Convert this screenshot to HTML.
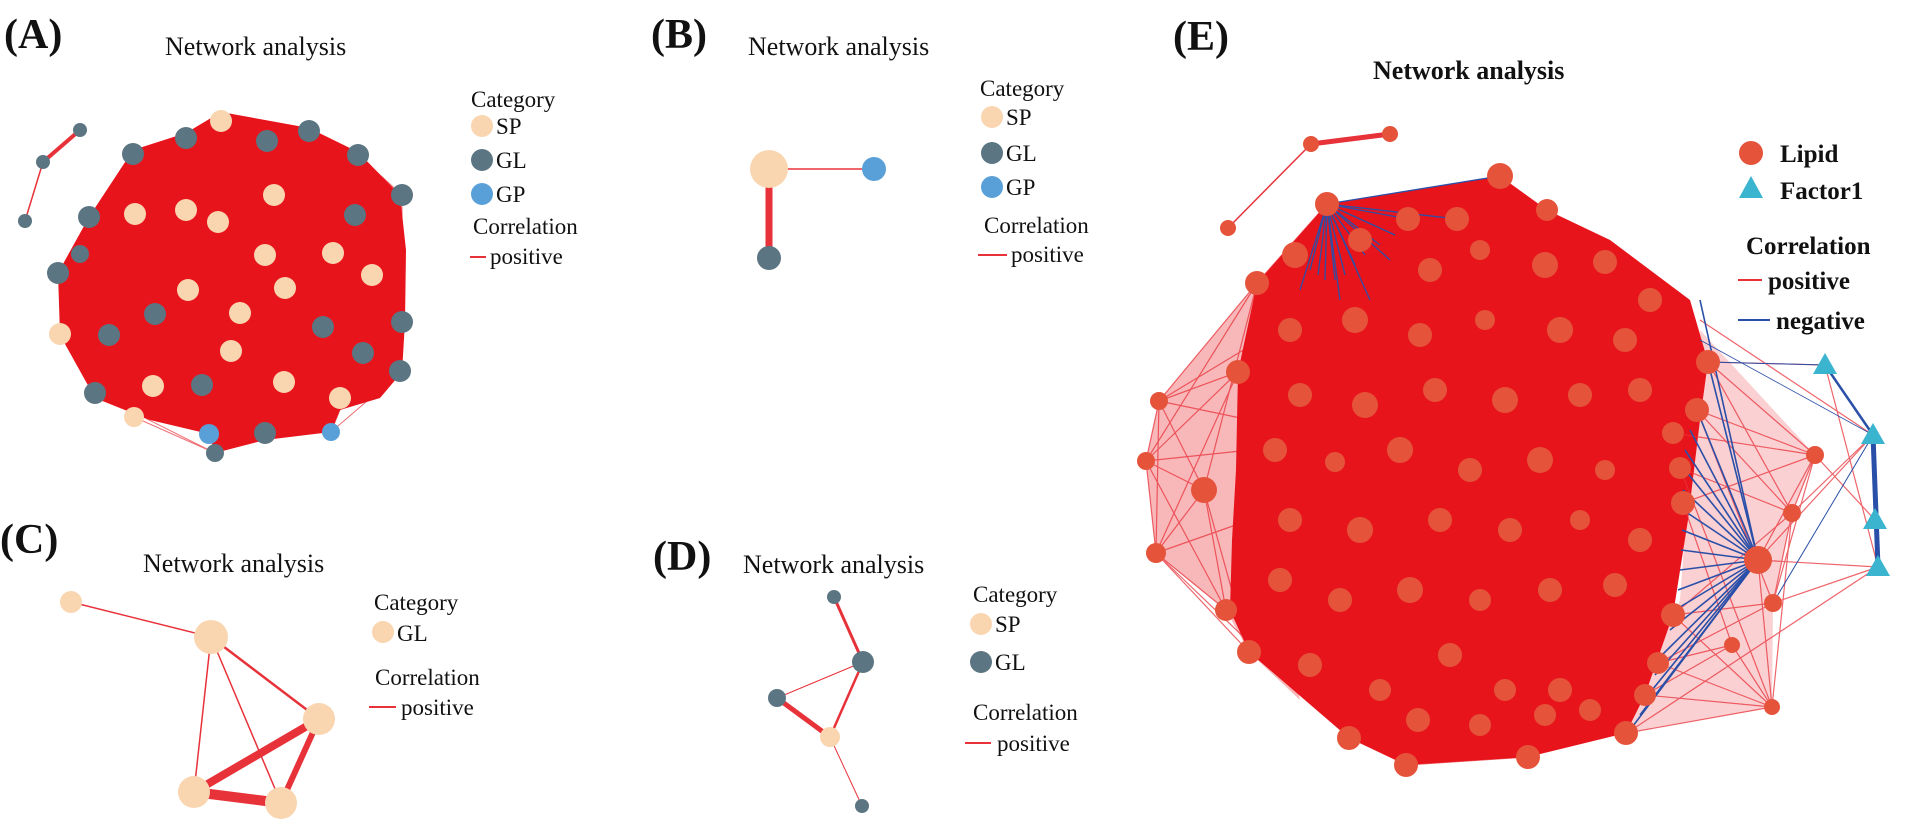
<!DOCTYPE html>
<html><head><meta charset="utf-8"><style>
html,body{margin:0;padding:0;background:#fff;width:1908px;height:826px;overflow:hidden}
text{font-family:"Liberation Serif",serif;fill:#111}
.lab{font-size:42px;font-weight:bold}
.tt{font-size:26px}
.lg{font-size:23px}
.lgb{font-size:25px;font-weight:bold}
.r{stroke:#e8323a;fill:none}
.b{stroke:#2a4fa8;fill:none}
.sp{fill:#f9d5b0}.gl{fill:#5b7582}.gp{fill:#5aa0d8}.li{fill:#e5533a}.tr{fill:#3ab4cf}
</style></head><body>
<svg width="1908" height="826" viewBox="0 0 1908 826" xmlns="http://www.w3.org/2000/svg">
<!-- Panel A -->
<text class="lab" x="4" y="48">(A)</text>
<text class="tt" x="165" y="55">Network analysis</text>
<line class="r" x1="43" y1="162" x2="80" y2="130" stroke-width="4"/>
<line class="r" x1="43" y1="162" x2="25" y2="221" stroke-width="1.5"/>
<g class="r" stroke-width="1" opacity="0.7">
<line x1="209" y1="434" x2="95" y2="393"/><line x1="209" y1="434" x2="152" y2="387"/><line x1="209" y1="434" x2="60" y2="334"/>
<line x1="215" y1="453" x2="134" y2="417"/><line x1="215" y1="453" x2="288" y2="382"/><line x1="215" y1="453" x2="95" y2="393"/>
<line x1="331" y1="432" x2="402" y2="371"/><line x1="331" y1="432" x2="288" y2="382"/><line x1="331" y1="432" x2="363" y2="353"/><line x1="331" y1="432" x2="231" y2="353"/>
<line x1="402" y1="195" x2="358" y2="155"/><line x1="402" y1="322" x2="372" y2="275"/><line x1="402" y1="322" x2="402" y2="195"/>
<line x1="402" y1="195" x2="380" y2="300"/><line x1="402" y1="322" x2="380" y2="230"/><line x1="400" y1="371" x2="385" y2="260"/>
</g>
<polygon fill="#e8141c" points="133,150 186,133 221,112 309,128 358,152 400,195 406,250 405,322 402,372 380,398 340,410 331,432 265,440 215,453 209,434 150,420 95,398 60,335 58,273 89,217"/>
<circle class="gl" cx="80" cy="130" r="7"/><circle class="gl" cx="43" cy="162" r="7"/><circle class="gl" cx="25" cy="221" r="7"/>
<g>
<circle class="sp" cx="221" cy="121" r="11"/><circle class="gl" cx="186" cy="138" r="11"/><circle class="gl" cx="267" cy="141" r="11"/><circle class="gl" cx="309" cy="131" r="11"/><circle class="gl" cx="358" cy="155" r="11"/><circle class="gl" cx="133" cy="154" r="11"/>
<circle class="sp" cx="274" cy="195" r="11"/><circle class="sp" cx="135" cy="214" r="11"/><circle class="sp" cx="186" cy="210" r="11"/><circle class="sp" cx="218" cy="222" r="11"/><circle class="gl" cx="89" cy="217" r="11"/><circle class="gl" cx="80" cy="254" r="9"/><circle class="gl" cx="58" cy="273" r="11"/>
<circle class="sp" cx="265" cy="255" r="11"/><circle class="sp" cx="333" cy="253" r="11"/><circle class="sp" cx="372" cy="275" r="11"/><circle class="gl" cx="355" cy="215" r="11"/>
<circle class="sp" cx="188" cy="290" r="11"/><circle class="sp" cx="285" cy="288" r="11"/><circle class="gl" cx="155" cy="314" r="11"/><circle class="sp" cx="240" cy="313" r="11"/><circle class="gl" cx="109" cy="335" r="11"/><circle class="sp" cx="60" cy="334" r="11"/>
<circle class="sp" cx="231" cy="351" r="11"/><circle class="gl" cx="323" cy="327" r="11"/><circle class="sp" cx="153" cy="386" r="11"/><circle class="gl" cx="202" cy="385" r="11"/><circle class="sp" cx="284" cy="382" r="11"/><circle class="sp" cx="340" cy="398" r="11"/><circle class="gl" cx="95" cy="393" r="11"/>
<circle class="gl" cx="402" cy="195" r="11"/><circle class="gl" cx="402" cy="322" r="11"/><circle class="gl" cx="400" cy="371" r="11"/><circle class="gl" cx="363" cy="353" r="11"/>
<circle class="sp" cx="134" cy="417" r="10"/><circle class="gl" cx="265" cy="433" r="11"/><circle class="gp" cx="209" cy="434" r="10"/><circle class="gp" cx="331" cy="432" r="9"/><circle class="gl" cx="215" cy="453" r="9"/>
</g>
<text class="lg" x="471" y="107">Category</text>
<circle class="sp" cx="482" cy="126" r="11"/><text class="lg" x="496" y="134">SP</text>
<circle class="gl" cx="482" cy="160" r="11"/><text class="lg" x="496" y="168">GL</text>
<circle class="gp" cx="482" cy="194" r="11"/><text class="lg" x="496" y="202">GP</text>
<text class="lg" x="473" y="234">Correlation</text>
<line class="r" x1="470" y1="257" x2="486" y2="257" stroke-width="2"/><text class="lg" x="490" y="264">positive</text>

<!-- Panel B -->
<text class="lab" x="651" y="48">(B)</text>
<text class="tt" x="748" y="55">Network analysis</text>
<line class="r" x1="769" y1="169" x2="874" y2="169" stroke-width="1.5"/>
<line class="r" x1="769" y1="169" x2="769" y2="258" stroke-width="7"/>
<circle class="sp" cx="769" cy="169" r="19"/><circle class="gp" cx="874" cy="169" r="12"/><circle class="gl" cx="769" cy="258" r="12"/>
<text class="lg" x="980" y="96">Category</text>
<circle class="sp" cx="992" cy="117" r="11"/><text class="lg" x="1006" y="125">SP</text>
<circle class="gl" cx="992" cy="153" r="11"/><text class="lg" x="1006" y="161">GL</text>
<circle class="gp" cx="992" cy="187" r="11"/><text class="lg" x="1006" y="195">GP</text>
<text class="lg" x="984" y="233">Correlation</text>
<line class="r" x1="978" y1="255" x2="1007" y2="255" stroke-width="2"/><text class="lg" x="1011" y="262">positive</text>

<!-- Panel C -->
<text class="lab" x="0" y="553">(C)</text>
<text class="tt" x="143" y="572">Network analysis</text>
<line class="r" x1="71" y1="602" x2="211" y2="637" stroke-width="1.5"/>
<line class="r" x1="211" y1="637" x2="194" y2="792" stroke-width="1.5"/>
<line class="r" x1="211" y1="637" x2="281" y2="803" stroke-width="1.5"/>
<line class="r" x1="211" y1="637" x2="319" y2="719" stroke-width="2.5"/>
<line class="r" x1="319" y1="719" x2="194" y2="792" stroke-width="8"/>
<line class="r" x1="319" y1="719" x2="281" y2="803" stroke-width="6"/>
<line class="r" x1="194" y1="792" x2="281" y2="803" stroke-width="10"/>
<circle class="sp" cx="71" cy="602" r="11"/><circle class="sp" cx="211" cy="637" r="17"/><circle class="sp" cx="319" cy="719" r="16"/><circle class="sp" cx="194" cy="792" r="16"/><circle class="sp" cx="281" cy="803" r="16"/>
<text class="lg" x="374" y="610">Category</text>
<circle class="sp" cx="383" cy="632" r="11"/><text class="lg" x="397" y="641">GL</text>
<text class="lg" x="375" y="685">Correlation</text>
<line class="r" x1="369" y1="707" x2="396" y2="707" stroke-width="2"/><text class="lg" x="401" y="715">positive</text>

<!-- Panel D -->
<text class="lab" x="653" y="570">(D)</text>
<text class="tt" x="743" y="573">Network analysis</text>
<line class="r" x1="834" y1="597" x2="863" y2="662" stroke-width="3"/>
<line class="r" x1="863" y1="662" x2="777" y2="698" stroke-width="1"/>
<line class="r" x1="863" y1="662" x2="830" y2="737" stroke-width="2.5"/>
<line class="r" x1="777" y1="698" x2="830" y2="737" stroke-width="5"/>
<line class="r" x1="830" y1="737" x2="862" y2="806" stroke-width="1"/>
<circle class="gl" cx="834" cy="597" r="7"/><circle class="gl" cx="863" cy="662" r="11"/><circle class="gl" cx="777" cy="698" r="9"/><circle class="sp" cx="830" cy="737" r="10"/><circle class="gl" cx="862" cy="806" r="7"/>
<text class="lg" x="973" y="602">Category</text>
<circle class="sp" cx="981" cy="624" r="11"/><text class="lg" x="995" y="632">SP</text>
<circle class="gl" cx="981" cy="662" r="11"/><text class="lg" x="995" y="670">GL</text>
<text class="lg" x="973" y="720">Correlation</text>
<line class="r" x1="965" y1="743" x2="991" y2="743" stroke-width="2"/><text class="lg" x="997" y="751">positive</text>

<!-- Panel E -->
<text class="lab" x="1173" y="50">(E)</text>
<text class="tt" x="1373" y="79" font-weight="bold">Network analysis</text>
<line class="r" x1="1311" y1="144" x2="1390" y2="134" stroke-width="5"/>
<line class="r" x1="1311" y1="144" x2="1228" y2="228" stroke-width="1.5"/>
<polygon fill="#e8141c" opacity="0.3" points="1257,283 1159,401 1146,461 1156,553 1226,610 1249,652 1300,700 1240,400"/>
<polygon fill="#e8141c" opacity="0.2" points="1700,330 1815,455 1792,513 1773,603 1772,707 1626,733 1680,600"/>
<g class="r" stroke-width="1.2" opacity="0.75">
<line x1="1159" y1="401" x2="1257" y2="283"/><line x1="1159" y1="401" x2="1238" y2="372"/><line x1="1159" y1="401" x2="1146" y2="461"/><line x1="1159" y1="401" x2="1204" y2="490"/><line x1="1159" y1="401" x2="1250" y2="420"/><line x1="1159" y1="401" x2="1260" y2="340"/><line x1="1159" y1="401" x2="1156" y2="553"/>
<line x1="1146" y1="461" x2="1238" y2="372"/><line x1="1146" y1="461" x2="1204" y2="490"/><line x1="1146" y1="461" x2="1156" y2="553"/><line x1="1146" y1="461" x2="1250" y2="450"/><line x1="1146" y1="461" x2="1257" y2="283"/><line x1="1146" y1="461" x2="1226" y2="610"/>
<line x1="1204" y1="490" x2="1257" y2="283"/><line x1="1204" y1="490" x2="1156" y2="553"/><line x1="1204" y1="490" x2="1226" y2="610"/><line x1="1204" y1="490" x2="1249" y2="652"/>
<line x1="1156" y1="553" x2="1226" y2="610"/><line x1="1156" y1="553" x2="1249" y2="652"/><line x1="1156" y1="553" x2="1238" y2="372"/><line x1="1156" y1="553" x2="1250" y2="520"/><line x1="1156" y1="553" x2="1349" y2="738"/>
<line x1="1257" y1="283" x2="1500" y2="176"/><line x1="1257" y1="283" x2="1327" y2="204"/><line x1="1238" y1="372" x2="1327" y2="204"/><line x1="1226" y1="610" x2="1349" y2="738"/><line x1="1249" y1="652" x2="1406" y2="765"/>
<line x1="1406" y1="765" x2="1528" y2="757"/><line x1="1349" y1="738" x2="1528" y2="757"/>
</g>
<polygon fill="#e8141c" points="1257,283 1327,204 1500,176 1547,210 1610,240 1690,300 1708,362 1700,420 1688,520 1673,615 1645,695 1626,733 1528,757 1406,765 1349,738 1249,652 1230,610 1232,540 1236,470 1238,372"/>
<g class="b" stroke-width="1.3">
<line x1="1327" y1="204" x2="1500" y2="176"/><line x1="1327" y1="204" x2="1408" y2="219"/><line x1="1327" y1="204" x2="1457" y2="219"/>
<line x1="1327" y1="204" x2="1310" y2="270"/><line x1="1327" y1="204" x2="1318" y2="275"/><line x1="1327" y1="204" x2="1325" y2="280"/><line x1="1327" y1="204" x2="1335" y2="280"/><line x1="1327" y1="204" x2="1345" y2="275"/><line x1="1327" y1="204" x2="1355" y2="265"/><line x1="1327" y1="204" x2="1365" y2="255"/><line x1="1327" y1="204" x2="1380" y2="245"/><line x1="1327" y1="204" x2="1395" y2="235"/><line x1="1327" y1="204" x2="1300" y2="290"/><line x1="1327" y1="204" x2="1340" y2="300"/><line x1="1327" y1="204" x2="1370" y2="300"/><line x1="1327" y1="204" x2="1390" y2="260"/>
</g>
<g class="r" stroke-width="1.2" opacity="0.75">
<line x1="1815" y1="455" x2="1708" y2="362"/><line x1="1815" y1="455" x2="1697" y2="410"/><line x1="1815" y1="455" x2="1683" y2="503"/><line x1="1815" y1="455" x2="1792" y2="513"/><line x1="1815" y1="455" x2="1875" y2="520"/><line x1="1815" y1="455" x2="1673" y2="433"/>
<line x1="1792" y1="513" x2="1708" y2="362"/><line x1="1792" y1="513" x2="1773" y2="603"/><line x1="1792" y1="513" x2="1680" y2="468"/><line x1="1792" y1="513" x2="1673" y2="615"/><line x1="1792" y1="513" x2="1873" y2="435"/><line x1="1792" y1="513" x2="1772" y2="707"/><line x1="1792" y1="513" x2="1697" y2="410"/>
<line x1="1773" y1="603" x2="1658" y2="663"/><line x1="1773" y1="603" x2="1673" y2="615"/><line x1="1773" y1="603" x2="1878" y2="567"/><line x1="1773" y1="603" x2="1697" y2="410"/><line x1="1773" y1="603" x2="1815" y2="455"/>
<line x1="1732" y1="645" x2="1645" y2="695"/><line x1="1732" y1="645" x2="1658" y2="663"/><line x1="1732" y1="645" x2="1683" y2="503"/><line x1="1732" y1="645" x2="1772" y2="707"/>
<line x1="1772" y1="707" x2="1645" y2="695"/><line x1="1772" y1="707" x2="1673" y2="615"/><line x1="1772" y1="707" x2="1658" y2="663"/><line x1="1772" y1="707" x2="1627" y2="733"/><line x1="1772" y1="707" x2="1680" y2="468"/>
<line x1="1758" y1="560" x2="1772" y2="707"/><line x1="1758" y1="560" x2="1815" y2="455"/><line x1="1758" y1="560" x2="1878" y2="567"/><line x1="1758" y1="560" x2="1873" y2="435"/>
<line x1="1825" y1="365" x2="1878" y2="567"/><line x1="1708" y1="362" x2="1825" y2="365"/><line x1="1700" y1="320" x2="1873" y2="435"/><line x1="1627" y1="733" x2="1878" y2="567"/>
</g>
<g class="b" stroke-width="1.6">
<line x1="1758" y1="560" x2="1700" y2="300"/><line x1="1758" y1="560" x2="1708" y2="362"/><line x1="1758" y1="560" x2="1697" y2="410"/><line x1="1758" y1="560" x2="1690" y2="430"/><line x1="1758" y1="560" x2="1685" y2="450"/><line x1="1758" y1="560" x2="1685" y2="470"/><line x1="1758" y1="560" x2="1683" y2="490"/><line x1="1758" y1="560" x2="1683" y2="510"/><line x1="1758" y1="560" x2="1682" y2="530"/><line x1="1758" y1="560" x2="1681" y2="550"/><line x1="1758" y1="560" x2="1680" y2="570"/><line x1="1758" y1="560" x2="1678" y2="590"/><line x1="1758" y1="560" x2="1675" y2="610"/><line x1="1758" y1="560" x2="1670" y2="630"/><line x1="1758" y1="560" x2="1662" y2="655"/><line x1="1758" y1="560" x2="1655" y2="675"/><line x1="1758" y1="560" x2="1648" y2="695"/><line x1="1758" y1="560" x2="1640" y2="715"/><line x1="1758" y1="560" x2="1630" y2="730"/>
<line x1="1708" y1="362" x2="1825" y2="365" stroke-width="1"/><line x1="1825" y1="365" x2="1873" y2="435" stroke-width="2.5"/><line x1="1873" y1="435" x2="1878" y2="567" stroke-width="5"/><line x1="1873" y1="435" x2="1773" y2="603" stroke-width="1"/><line x1="1700" y1="340" x2="1873" y2="435" stroke-width="0.8"/>
</g>
<g class="li">
<circle cx="1311" cy="144" r="8"/><circle cx="1390" cy="134" r="8"/><circle cx="1228" cy="228" r="8"/>
<circle cx="1327" cy="204" r="12"/><circle cx="1500" cy="176" r="13"/><circle cx="1547" cy="210" r="11"/><circle cx="1408" cy="219" r="12"/><circle cx="1457" cy="219" r="12"/><circle cx="1257" cy="283" r="12"/><circle cx="1238" cy="372" r="12"/>
<circle cx="1159" cy="401" r="9"/><circle cx="1146" cy="461" r="9"/><circle cx="1204" cy="490" r="13"/><circle cx="1156" cy="553" r="10"/><circle cx="1226" cy="610" r="11"/><circle cx="1249" cy="652" r="12"/><circle cx="1349" cy="738" r="12"/><circle cx="1406" cy="765" r="12"/><circle cx="1528" cy="757" r="12"/><circle cx="1626" cy="733" r="12"/>
<circle cx="1708" cy="362" r="12"/><circle cx="1697" cy="410" r="12"/><circle cx="1673" cy="433" r="11"/><circle cx="1680" cy="468" r="11"/><circle cx="1683" cy="503" r="12"/><circle cx="1673" cy="615" r="12"/><circle cx="1658" cy="663" r="11"/><circle cx="1645" cy="695" r="11"/>
<circle cx="1758" cy="560" r="14"/><circle cx="1815" cy="455" r="9"/><circle cx="1792" cy="513" r="9"/><circle cx="1773" cy="603" r="9"/><circle cx="1732" cy="645" r="8"/><circle cx="1772" cy="707" r="8"/>
<circle cx="1295" cy="255" r="13"/><circle cx="1360" cy="240" r="12"/><circle cx="1430" cy="270" r="12"/><circle cx="1480" cy="250" r="10"/><circle cx="1545" cy="265" r="13"/><circle cx="1605" cy="262" r="12"/><circle cx="1650" cy="300" r="12"/>
<circle cx="1290" cy="330" r="12"/><circle cx="1355" cy="320" r="13"/><circle cx="1420" cy="335" r="12"/><circle cx="1485" cy="320" r="10"/><circle cx="1560" cy="330" r="13"/><circle cx="1625" cy="340" r="12"/>
<circle cx="1300" cy="395" r="12"/><circle cx="1365" cy="405" r="13"/><circle cx="1435" cy="390" r="12"/><circle cx="1505" cy="400" r="13"/><circle cx="1580" cy="395" r="12"/><circle cx="1640" cy="390" r="12"/>
<circle cx="1275" cy="450" r="12"/><circle cx="1335" cy="462" r="10"/><circle cx="1400" cy="450" r="13"/><circle cx="1470" cy="470" r="12"/><circle cx="1540" cy="460" r="13"/><circle cx="1605" cy="470" r="10"/>
<circle cx="1290" cy="520" r="12"/><circle cx="1360" cy="530" r="13"/><circle cx="1440" cy="520" r="12"/><circle cx="1510" cy="530" r="12"/><circle cx="1580" cy="520" r="10"/><circle cx="1640" cy="540" r="12"/>
<circle cx="1280" cy="580" r="12"/><circle cx="1340" cy="600" r="12"/><circle cx="1410" cy="590" r="13"/><circle cx="1480" cy="600" r="11"/><circle cx="1550" cy="590" r="12"/><circle cx="1615" cy="585" r="12"/>
<circle cx="1310" cy="665" r="12"/><circle cx="1380" cy="690" r="11"/><circle cx="1450" cy="655" r="12"/><circle cx="1505" cy="690" r="11"/><circle cx="1560" cy="690" r="12"/><circle cx="1418" cy="720" r="12"/><circle cx="1480" cy="725" r="11"/><circle cx="1545" cy="715" r="11"/><circle cx="1590" cy="710" r="11"/>
</g>
<g class="tr">
<polygon points="1825,353 1837,374 1813,374"/><polygon points="1873,423 1885,444 1861,444"/><polygon points="1875,508 1887,529 1863,529"/><polygon points="1878,555 1890,576 1866,576"/>
</g>
<circle class="li" cx="1751" cy="153" r="12"/><text class="lgb" x="1780" y="162">Lipid</text>
<polygon class="tr" points="1751,176 1763,198 1739,198"/><text class="lgb" x="1780" y="199">Factor1</text>
<text class="lgb" x="1746" y="254">Correlation</text>
<line class="r" x1="1738" y1="280" x2="1762" y2="280" stroke-width="2"/><text class="lgb" x="1768" y="289">positive</text>
<line class="b" x1="1738" y1="320" x2="1770" y2="320" stroke-width="2"/><text class="lgb" x="1776" y="329">negative</text>
</svg>
</body></html>
